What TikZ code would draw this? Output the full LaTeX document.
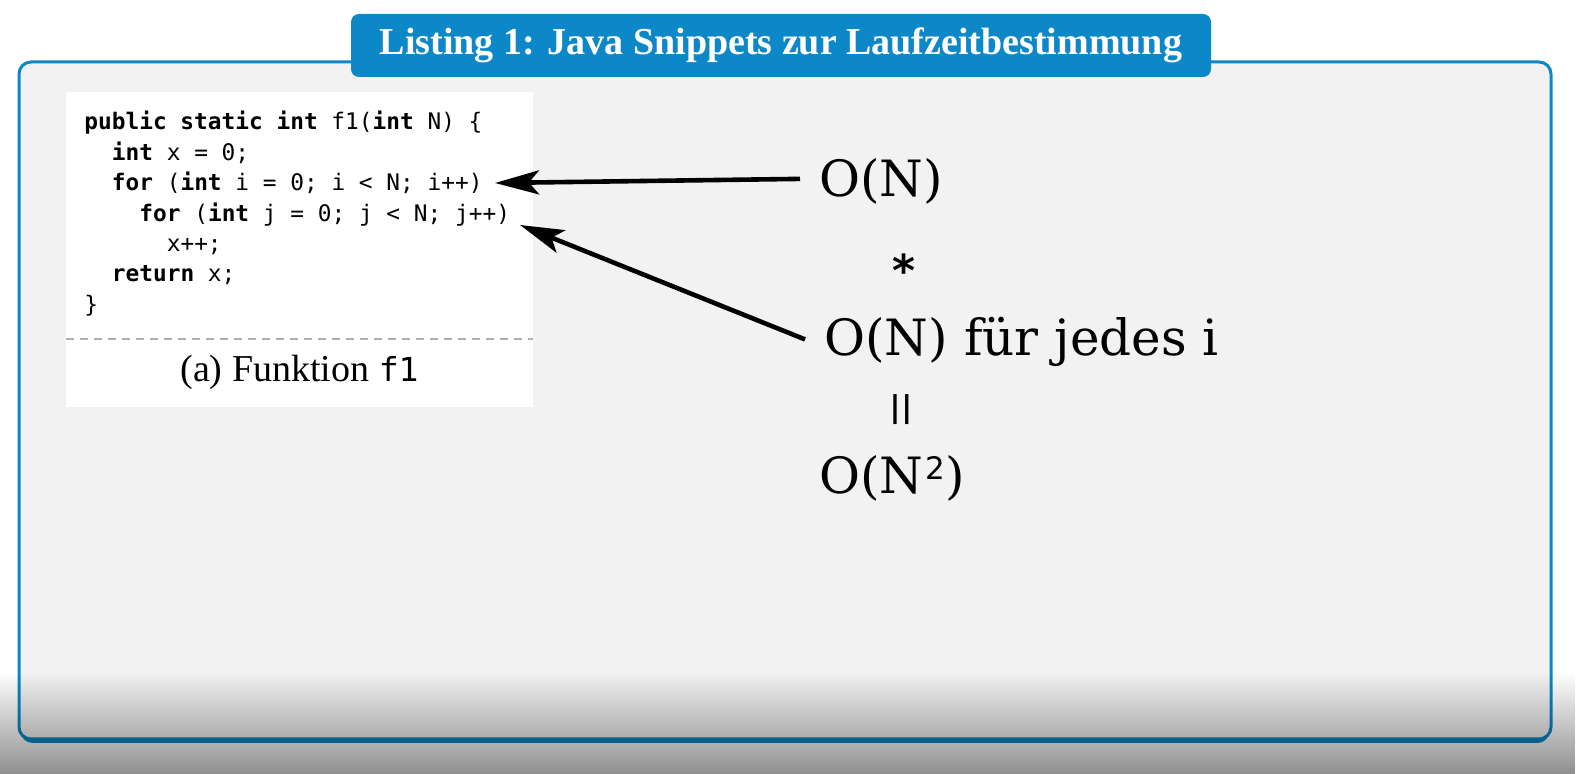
\documentclass[tikz,border=0pt]{standalone}
\usepackage{fontspec}
\setmainfont{Liberation Serif}
\setmonofont{DejaVu Sans Mono}
\newfontfamily\dvserif{DejaVu Serif}
\newfontfamily\dvsans{DejaVu Sans}
\usetikzlibrary{arrows.meta,fadings}

\definecolor{listblue}{RGB}{12,136,200}
\definecolor{panelgray}{RGB}{242,242,242}
\definecolor{rulegray}{RGB}{176,176,176}

% darkening towards the lower edge
\tikzfading[name=fade bottom, top color=transparent!100,
  middle color=transparent!90, bottom color=transparent!56]

\begin{document}
\begin{tikzpicture}[x=0.5pt,y=-0.5pt,
  codeline/.style={anchor=base west, inner sep=0pt,
    font=\ttfamily\fontsize{11.4pt}{13pt}\selectfont},
  bigterm/.style={anchor=base west, inner xsep=9.5pt, inner ysep=0pt,
    font=\dvserif\fontsize{25pt}{30pt}\selectfont},
  ptr/.style={line width=2.3pt, -{Stealth[length=22pt,width=12pt,inset=5pt]}},
  titlebox/.style={fill=listblue, rounded corners=4pt, minimum width=430pt,
    minimum height=31.5pt, inner sep=0pt, text=white,
    font=\bfseries\fontsize{19pt}{22pt}\selectfont},
]
\useasboundingbox (0,0) rectangle (1576,774);
\fill[white] (0,0) rectangle (1576,774);

% outer panel with its lower shadow edge
\fill[listblue, rounded corners=6pt] (20.5,66) rectangle (1549.5,743);
\draw[listblue, line width=1.5pt, fill=panelgray, rounded corners=6pt]
  (19,62) rectangle (1551,739);

% title tab
\node[titlebox] (title) at (781,45.5) {Listing 1: Java Snippets zur Laufzeitbestimmung};

% code sub-figure
\fill[white] (66,92) rectangle (533,407);
\node[codeline] (l1) at (84,130)    {\textbf{public} \textbf{static} \textbf{int} f1(\textbf{int} N) \{};
\node[codeline] (l2) at (111.5,160.4) {\textbf{int} x = 0;};
\node[codeline] (l3) at (111.5,190.8) {\textbf{for} (\textbf{int} i = 0; i < N; i++)};
\node[codeline] (l4) at (139,221.2)   {\textbf{for} (\textbf{int} j = 0; j < N; j++)};
\node[codeline] (l5) at (166.4,251.6) {x++;};
\node[codeline] (l6) at (111.5,282)   {\textbf{return} x;};
\node[codeline] (l7) at (84,312.4)    {\}};
\draw[rulegray, line width=0.75pt, dash pattern=on 4pt off 3pt] (66,339) -- (533,339);
\node[anchor=base, inner sep=0pt] (cap) at (299.5,382)
  {\fontsize{19pt}{22pt}\selectfont (a) Funktion {\ttfamily\fontsize{16.5pt}{18pt}\selectfont f1}};

% complexity annotation
\node[bigterm] (on1) at (800,197) {O(N)};
\node[anchor=base, inner sep=0pt, font=\dvsans\bfseries\fontsize{22pt}{26pt}\selectfont] (star) at (904,287) {*};
\node[bigterm] (on2) at (805,356) {O(N) für jedes i};
\node[inner sep=0pt, font=\dvsans\bfseries\fontsize{15pt}{18pt}\selectfont] (eq) at (901,410) {|\kern0.5pt|};
\node[bigterm] (on3) at (800,494)
  {O(N\kern1pt\raisebox{7pt}{\dvsans\fontsize{15.5pt}{17pt}\selectfont 2})};

% pointers into the code
\coordinate (t1) at (495,183);
\coordinate (t2) at (520,225);
\draw[ptr] ([yshift=1.5pt]on1.west) -- (t1);
\draw[ptr] ([yshift=1.5pt]on2.west) -- (t2);

% shade over the lower edge
\fill[black, path fading=fade bottom] (0,672) rectangle (1576,774);
\end{tikzpicture}
\end{document}
